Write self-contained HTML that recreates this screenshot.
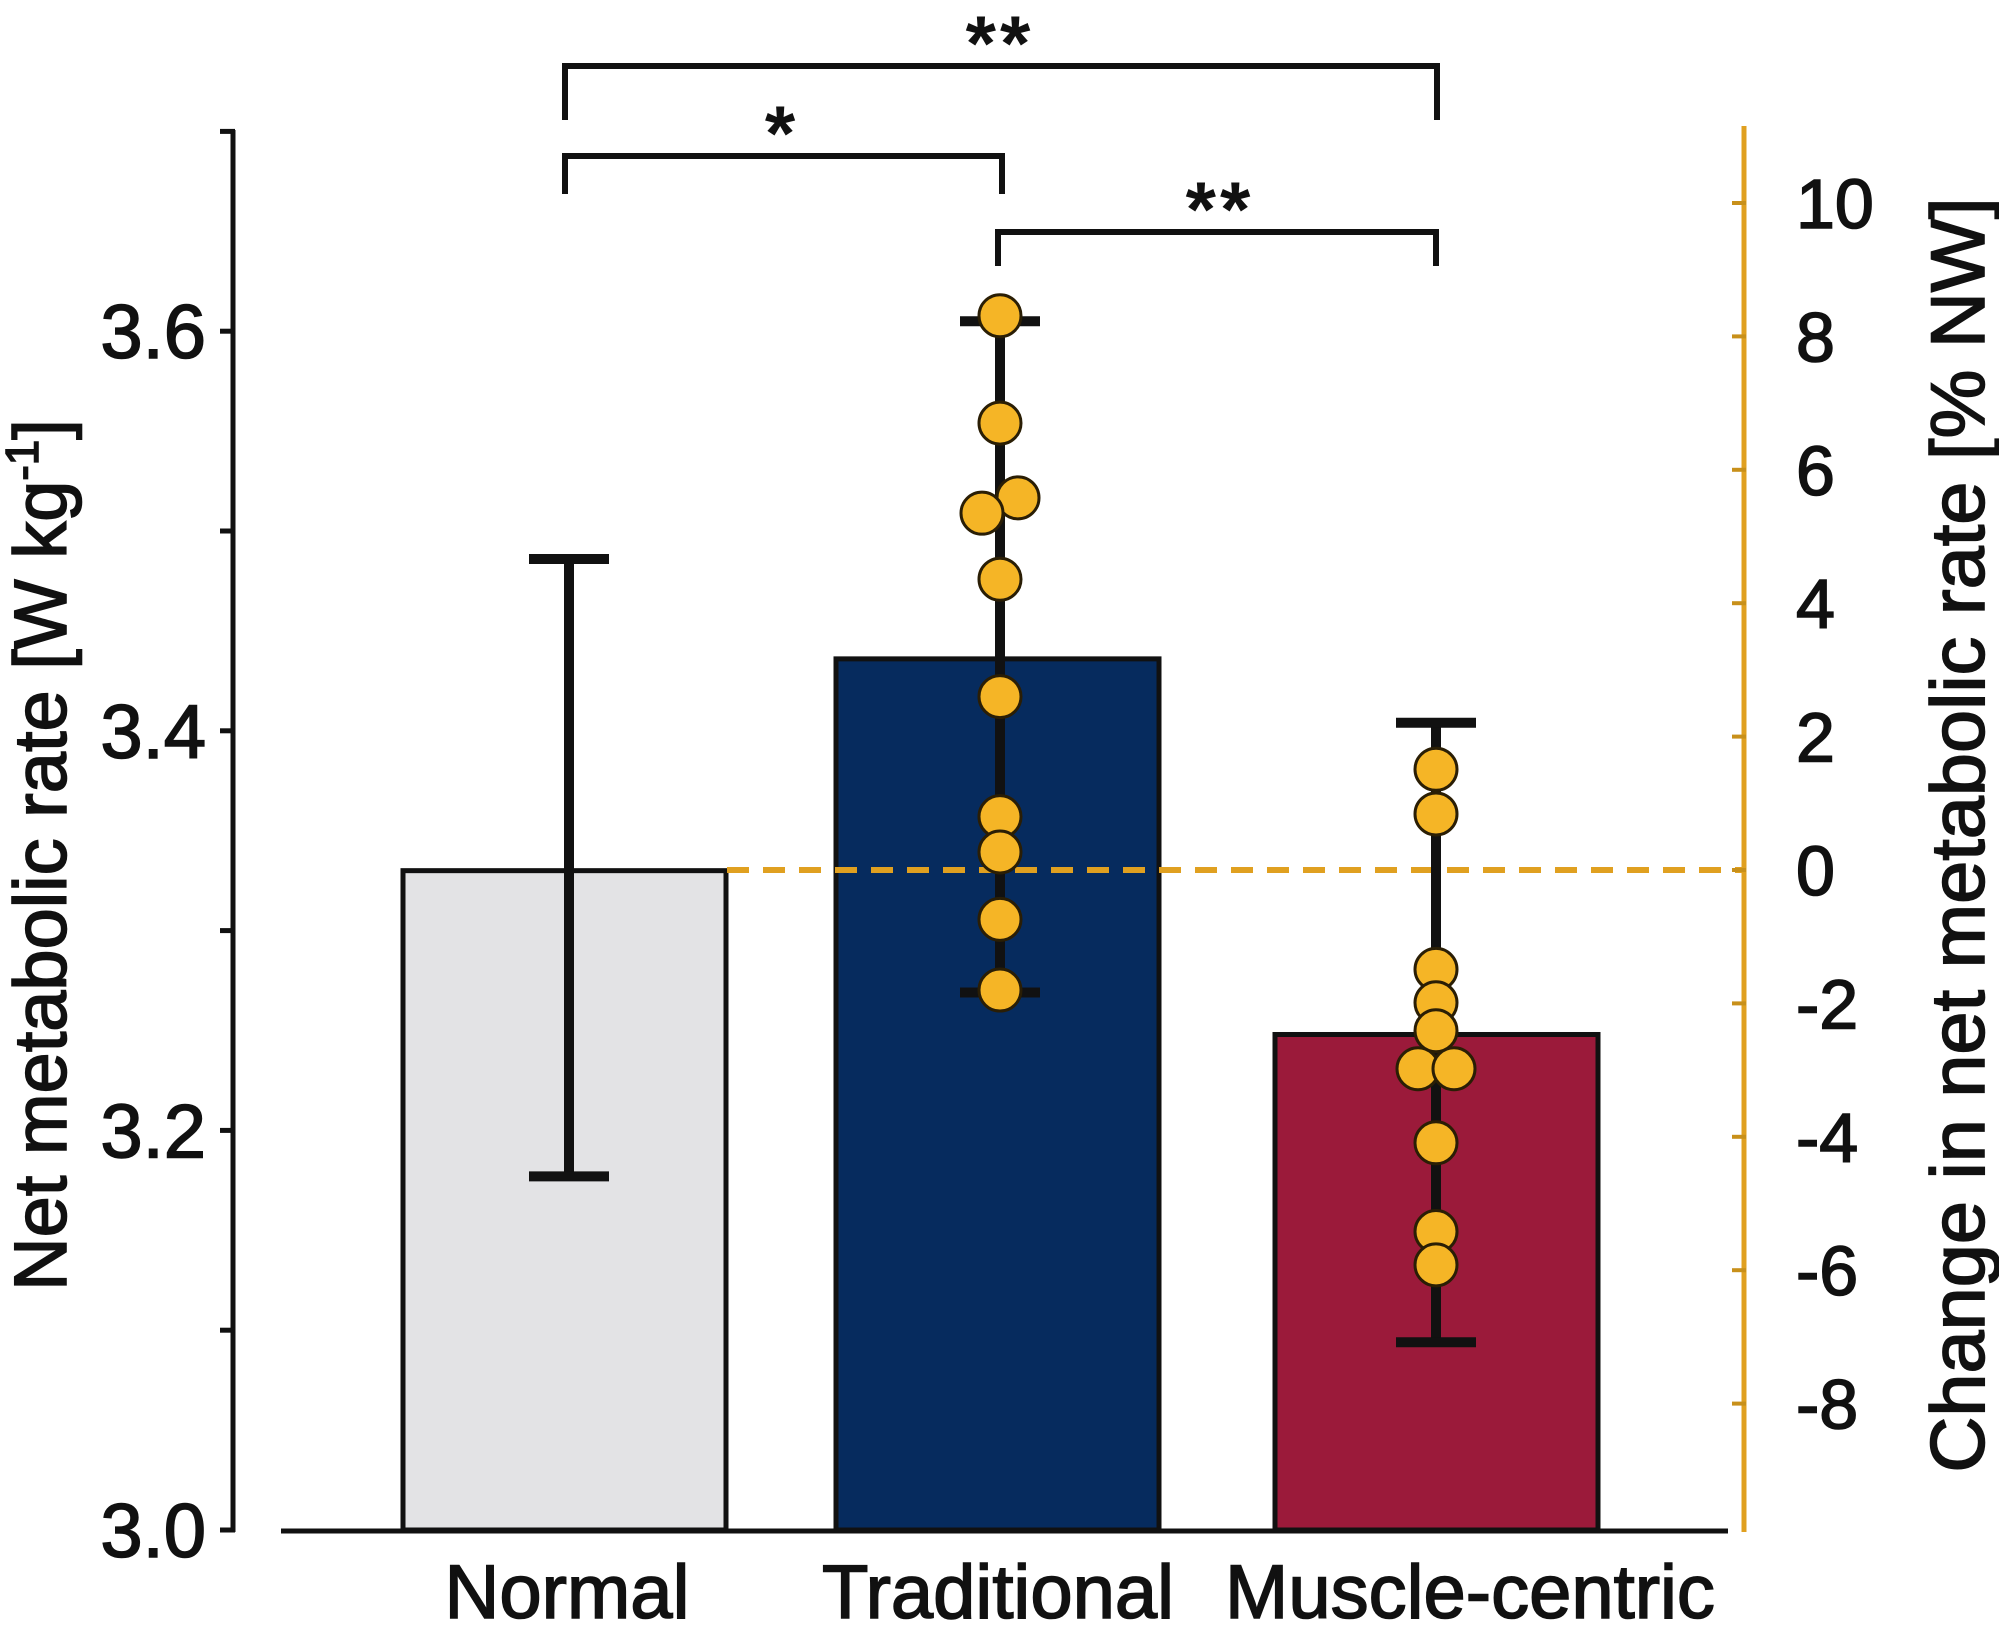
<!DOCTYPE html>
<html><head><meta charset="utf-8"><style>
html,body{margin:0;padding:0;background:#fff;}
svg{display:block;font-family:"Liberation Sans",Arial,sans-serif;}
</style></head><body>
<svg id="chart" width="1999" height="1637" viewBox="0 0 1999 1637"></svg>
<script>
const categories = ["Normal","Traditional","Muscle-centric"];
const means = [3.33, 3.436, 3.248];
const errLow = [3.177, 3.269, 3.094];
const errHigh = [3.486, 3.605, 3.404];
const tradPoints = [8.31, 6.70, 5.58, 5.35, 4.36, 2.60, 0.80, 0.27, -0.74, -1.80];
const tradJitter = [0, 0, 1, -1, 0, 0, 0, 0, 0, 0];
const musclePoints = [1.51, 0.84, -1.49, -1.99, -2.41, -2.98, -2.98, -4.09, -5.42, -5.92];
const muscleJitter = [0, 0, 0, 0, 0, -1, 1, 0, 0, 0];
const leftTicks = [3.0, 3.2, 3.4, 3.6];
const leftMinor = [3.1, 3.3, 3.5, 3.7];
const rightTicks = [10, 8, 6, 4, 2, 0, -2, -4, -6, -8];

const NS = "http://www.w3.org/2000/svg";
const svg = document.getElementById("chart");
function el(tag, attrs, parent){ const e=document.createElementNS(NS,tag); for(const k in attrs) e.setAttribute(k,attrs[k]); (parent||svg).appendChild(e); return e; }
const yL = v => 1530 - (v-3.0)*1998;
const yR = p => 870 - p*66.7;
const xC = i => [569, 1000, 1436][i];
const barL = [403, 836, 1275];
const barW = 323;
const fills = ["#e3e3e5", "#062b5e", "#9b1a3a"];
const txtStyle = {fill:"#111",stroke:"#111","stroke-width":1.6};

categories.forEach((c,i)=>{
  const r = el("rect",{x:barL[i],y:yL(means[i]),width:barW,height:1530-yL(means[i]),fill:fills[i],stroke:"#111","stroke-width":5});
  
  
});
const dz = el("line",{x1:727,y1:yR(0),x2:1744,y2:yR(0),stroke:"#e0a020","stroke-width":6,"stroke-dasharray":"22 14"});


categories.forEach((c,i)=>{
  const g = el("g",{});
  
  
  el("line",{x1:xC(i),y1:yL(errHigh[i]),x2:xC(i),y2:yL(errLow[i]),stroke:"#111","stroke-width":10},g);
  el("line",{x1:xC(i)-40,y1:yL(errHigh[i]),x2:xC(i)+40,y2:yL(errHigh[i]),stroke:"#111","stroke-width":10},g);
  el("line",{x1:xC(i)-40,y1:yL(errLow[i]),x2:xC(i)+40,y2:yL(errLow[i]),stroke:"#111","stroke-width":10},g);
});
function dots(vals, jit, ci, name){
  vals.forEach((v,k)=>{
    const d = el("circle",{cx:xC(ci)+jit[k]*18,cy:yR(v),r:21,fill:"#f5b526",stroke:"#2a1e05","stroke-width":3});
    
    
  });
}
dots(tradPoints, tradJitter, 1, "traditional");
dots(musclePoints, muscleJitter, 2, "muscle-centric");

const la = el("g",{});


el("line",{x1:233,y1:130,x2:233,y2:1532,stroke:"#111","stroke-width":5},la);
leftTicks.forEach(t=>{
  el("line",{x1:220,y1:yL(t),x2:235,y2:yL(t),stroke:"#111","stroke-width":5},la);
  const tx = el("text",Object.assign({x:206,y:yL(t)+27,"font-size":76,"text-anchor":"end"},txtStyle),la);
  tx.textContent = t.toFixed(1);
});
leftMinor.forEach(t=>{ el("line",{x1:220,y1:yL(t),x2:235,y2:yL(t),stroke:"#111","stroke-width":5},la); });
const xa = el("line",{x1:281,y1:1531,x2:1728,y2:1531,stroke:"#111","stroke-width":5});


const labelX=[567,998,1470];
categories.forEach((c,i)=>{
  const t = el("text",Object.assign({x:labelX[i],y:1618,"font-size":76,"text-anchor":"middle"},txtStyle));
  t.textContent=c;
  
  
});
const ra = el("g",{});


el("line",{x1:1744,y1:126,x2:1744,y2:1532,stroke:"#e0a020","stroke-width":5},ra);
rightTicks.forEach(t=>{
  el("line",{x1:1732,y1:yR(t),x2:1746,y2:yR(t),stroke:"#c8901a","stroke-width":4},ra);
  const tx=el("text",Object.assign({x:1796,y:yR(t)+25,"font-size":70},txtStyle),ra);
  tx.textContent=String(t);
});
const lt = el("text",Object.assign({x:0,y:0,"font-size":74,"text-anchor":"middle",transform:"translate(66,855) rotate(-90)"},txtStyle));
lt.innerHTML='Net metabolic rate [W kg<tspan dy="-28" font-size="46">-1</tspan><tspan dy="28">]</tspan>';


const rt = el("text",Object.assign({x:0,y:0,"font-size":76,"text-anchor":"middle",transform:"translate(1984,835) rotate(-90) scale(1.02,1)"},txtStyle));
rt.textContent="Change in net metabolic rate [% NW]";


function bracket(x1,x2,y,yd,label,lx,ly,name){
  const g=el("g",{});
  
  
  el("polyline",{points:`${x1},${yd} ${x1},${y} ${x2},${y} ${x2},${yd}`,fill:"none",stroke:"#111","stroke-width":6},g);
  const t=el("text",{x:lx,y:ly,"font-size":78,"font-weight":"bold","text-anchor":"middle",fill:"#111","letter-spacing":"4"},g);
  t.textContent=label;
}
bracket(565,1437,66,120,"**",1000,70,"significance-normal-muscle");
bracket(565,1002,156,194,"*",782,160,"significance-normal-traditional");
bracket(998,1436,232,266,"**",1220,236,"significance-traditional-muscle");
</script>
</body></html>
